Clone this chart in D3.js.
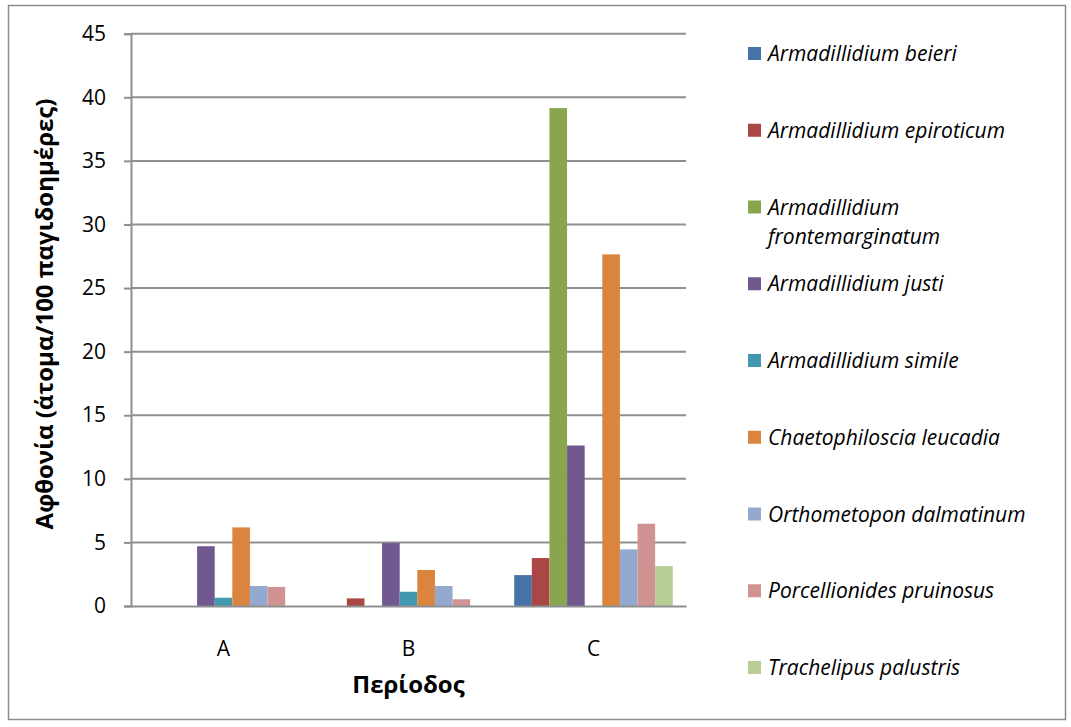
<!DOCTYPE html>
<html>
<head>
<meta charset="utf-8">
<script src="https://cdn.jsdelivr.net/npm/d3@7/dist/d3.min.js"></script>
<style>
  html, body { margin: 0; padding: 0; background: #fff; }
  svg { display: block; }
  text { font-family: "Open Sans", "Noto Sans", sans-serif; fill: #000; }
</style>
</head>
<body>
<svg id="chart" width="1071" height="727"></svg>
<script>
const periods = ["A", "B", "C"];
const species = [
  "Armadillidium beieri",
  "Armadillidium epiroticum",
  "Armadillidium frontemarginatum",
  "Armadillidium justi",
  "Armadillidium simile",
  "Chaetophiloscia leucadia",
  "Orthometopon dalmatinum",
  "Porcellionides pruinosus",
  "Trachelipus palustris"
];
const valuesA = [0, 0, 0, 4.7, 0.65, 6.18, 1.57, 1.5, 0];
const valuesB = [0, 0.6, 0, 4.95, 1.12, 2.83, 1.57, 0.53, 0];
const valuesC = [2.43, 3.77, 39.15, 12.62, 0, 27.65, 4.45, 6.47, 3.14];
const yTicks = [0, 5, 10, 15, 20, 25, 30, 35, 40, 45];
const colors = ["#4572A7", "#AA4643", "#89A54E", "#71588F", "#4198AF", "#DB843D", "#93A9CF", "#D19392", "#B9CD96"];

const seriesByPeriod = { A: valuesA, B: valuesB, C: valuesC };

const svg = d3.select("#chart");

// outer border
svg.append("rect")
  .attr("x", 8.5).attr("y", 5.5).attr("width", 1057).attr("height", 714)
  .attr("fill", "#fff").attr("stroke", "#8c8c8c").attr("stroke-width", 1.5);

const plot = { left: 131, right: 686, top: 33.7, bottom: 606 };

const y = d3.scaleLinear().domain([0, 45]).range([plot.bottom, plot.top]);
const x0 = d3.scaleBand().domain(periods).range([plot.left, plot.right]).paddingInner(0).paddingOuter(0);
const x1 = d3.scaleBand().domain(species).range([0, x0.bandwidth()]).paddingInner(0).paddingOuter(0.75);
const color = d3.scaleOrdinal().domain(species).range(colors);

// gridlines
svg.append("g")
  .selectAll("line")
  .data(yTicks.filter(d => d > 0))
  .join("line")
  .attr("x1", plot.left).attr("x2", plot.right)
  .attr("y1", d => y(d)).attr("y2", d => y(d))
  .attr("stroke", "#8f8f8f").attr("stroke-width", 2);

// bars
const groups = svg.append("g")
  .selectAll("g")
  .data(periods)
  .join("g")
  .attr("transform", d => `translate(${x0(d)},0)`);

groups.selectAll("rect")
  .data(p => species.map((s, i) => ({ s, v: seriesByPeriod[p][i] })).filter(d => d.v > 0))
  .join("rect")
  .attr("x", d => x1(d.s))
  .attr("width", x1.bandwidth())
  .attr("y", d => y(d.v))
  .attr("height", d => y(0) - y(d.v))
  .attr("fill", d => color(d.s));

// y axis
const yAxis = d3.axisLeft(y).tickValues(yTicks).tickSize(7).tickPadding(18).tickFormat(d3.format("d"));
const gy = svg.append("g").attr("transform", `translate(${plot.left},0)`).call(yAxis);
gy.select(".domain").attr("stroke", "#8f8f8f").attr("stroke-width", 2);
gy.selectAll(".tick line").attr("stroke", "#8f8f8f").attr("stroke-width", 2);
gy.selectAll(".tick text").style("font-size", "21px").attr("fill", "#000")
  .style("font-family", '"Open Sans", sans-serif');

// x axis
const xAxis = d3.axisBottom(x0).tickSize(0).tickPadding(35);
const gx = svg.append("g").attr("transform", `translate(0,${plot.bottom})`).call(xAxis);
gx.select(".domain").attr("stroke", "#8f8f8f").attr("stroke-width", 2);
gx.selectAll(".tick text").style("font-size", "21px").attr("fill", "#000")
  .style("font-family", '"Open Sans", sans-serif');

// axis titles
svg.append("text")
  .attr("x", (plot.left + plot.right) / 2).attr("y", 693)
  .attr("text-anchor", "middle")
  .style("font-size", "24px").style("font-weight", "bold")
  .text("Περίοδος");

svg.append("text")
  .attr("transform", `translate(53,314) rotate(-90)`)
  .attr("text-anchor", "middle")
  .style("font-size", "24px").style("font-weight", "bold")
  .text("Αφθονία (άτομα/100 παγιδοημέρες)");

// legend
const legendY = d3.scalePoint().domain(species).range([54, 668]);
const leg = svg.append("g")
  .selectAll("g")
  .data(species)
  .join("g")
  .attr("transform", d => `translate(748,${legendY(d)})`);

leg.append("rect")
  .attr("x", 0).attr("y", -7).attr("width", 13).attr("height", 13)
  .attr("fill", d => color(d));

leg.each(function(d) {
  const g = d3.select(this);
  const t = g.append("text")
    .attr("x", 20).attr("y", 7)
    .style("font-size", "21px").style("font-style", "italic");
  if (d === "Armadillidium frontemarginatum") {
    t.append("tspan").attr("x", 20).attr("dy", 0).text("Armadillidium");
    t.append("tspan").attr("x", 20).attr("dy", 29.5).text("frontemarginatum");
  } else {
    t.text(d);
  }
});
</script>
</body>
</html>
